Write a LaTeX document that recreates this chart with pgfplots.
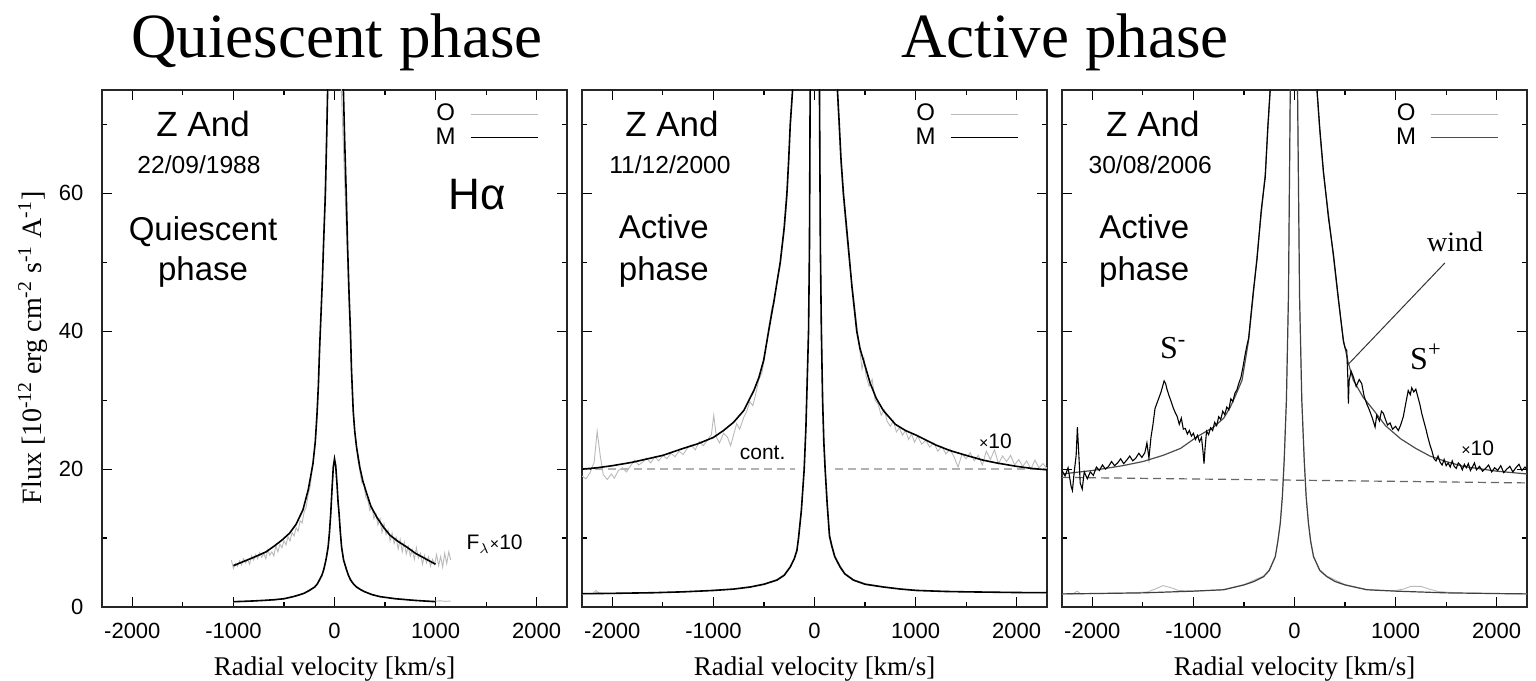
\documentclass[border=0pt]{standalone}
\usepackage{fontspec}
\setmainfont{Liberation Serif}
\newfontfamily\hv{Liberation Sans}
\usepackage{pgfplots}
\pgfplotsset{compat=1.18}

\pgfplotsset{
  zpanel/.style={
    scale only axis, width=232.5pt, height=258.5pt,
    anchor=south west,
    xmin=-2300, xmax=2300, ymin=0, ymax=75,
    xtick={-2000,-1000,...,2000}, minor xtick={-1500,-500,500,1500},
    ytick={0,20,40,60}, minor ytick={10,30,50,70},
    tick pos=both, tick align=inside,
    major tick length=5pt, minor tick length=2.5pt,
    tick style={line width=0.6pt, black},
    axis line style={line width=1pt, black!85},
    scaled ticks=false,
    /pgf/number format/1000 sep={},
    /pgf/number format/assume math mode=true,
    ticklabel style={font=\hv\fontsize{11}{11}\selectfont},
    xticklabel style={yshift=-4.3pt},
    yticklabel style={xshift=-5.8pt},
    xlabel={Radial velocity [km/s]},
    xlabel style={at={(axis description cs:0.5,0)}, anchor=base, yshift=-34pt,
      font=\fontsize{13.5}{13.5}\selectfont},
    legend plot pos=right,
    legend image code/.code={\draw[##1] (0pt,0pt) -- (33.5pt,0pt);},
    legend style={draw=none, fill=none, inner sep=0pt, column sep=6pt,
      nodes={inner sep=1pt}, at={(axis cs:2020,73.3)}, anchor=north east,
      font=\hv\fontsize{12}{12}\selectfont},
  },
  obs/.style={gray!55, line width=0.45pt},
  mod/.style={black, line width=0.8pt},
}
\tikzset{
  zand/.style={anchor=base, font=\hv\fontsize{17.5}{17.5}\selectfont},
  date/.style={anchor=base, font=\hv\fontsize{12.3}{12.3}\selectfont},
  phs/.style={anchor=base, font=\hv\fontsize{16.5}{16.5}\selectfont},
  small/.style={anchor=base, font=\hv\fontsize{10.5}{10.5}\selectfont},
}

\begin{document}
\begin{tikzpicture}
\useasboundingbox (0,0) rectangle (768pt,340pt);

% titles and y label
\node[anchor=base, font=\fontsize{31.5}{31.5}\selectfont] at (168.5pt,311pt) {Quiescent phase};
\node[anchor=base, font=\fontsize{31.5}{31.5}\selectfont] at (532.5pt,311pt) {Active phase};
\node[rotate=90, anchor=center, font=\fontsize{14}{14}\selectfont] at (16.5pt,166pt)
  {Flux [10\textsuperscript{-12} erg cm\textsuperscript{-2} s\textsuperscript{-1} A\textsuperscript{-1}]};

% ---------------- panel 1: quiescent 1988
\begin{axis}[zpanel, at={(51pt,36.5pt)}]
\addplot[obs] coordinates {
(-1020,6.8) (-1000,5.6) (-980,6.3) (-960,5.9) (-940,6.7) (-920,6.1) (-900,7.0) (-880,6.4)
(-860,6.9) (-840,6.2) (-820,7.4) (-800,6.8) (-780,7.6) (-760,7.0) (-740,7.9) (-720,7.2)
(-700,7.8) (-680,7.0) (-660,8.3) (-640,7.5) (-620,8.0) (-600,7.4) (-580,8.9) (-560,8.0)
(-540,9.1) (-520,8.6) (-500,9.6) (-480,9.0) (-460,10.2) (-440,9.6) (-420,10.8) (-400,10.3)
(-380,11.5) (-360,11.0) (-340,12.5) (-320,12.2) (-300,13.8) (-280,14.5) (-260,16.4) (-240,17.5)
(-220,20.0) (-200,22.5) (-180,25.5) (-160,31) (-140,40) (-120,48) (-100,57) (-80,68) (-65,76)
(0,210) (65,76) (90,66) (110,58) (130,50) (150,41) (170,33) (190,27) (210,24.5) (230,21.5)
(250,19.8) (270,18.0) (290,17.8) (310,15.9) (330,15.5) (350,14.0) (370,14.6) (390,12.8)
(410,13.5) (430,11.9) (450,12.8) (470,10.8) (490,12.1) (510,10.5) (530,11.2) (550,9.6)
(570,10.7) (590,9.2) (610,10.1) (630,8.4) (650,9.8) (670,8.0) (690,9.4) (710,7.7) (730,8.8)
(750,7.4) (770,8.3) (790,6.9) (810,8.6) (830,7.1) (850,7.8) (870,6.2) (890,7.5) (910,6.4)
(930,7.3) (950,5.9) (970,6.9) (990,6.2) (1010,7.6) (1030,6.0) (1050,7.3) (1070,5.8)
(1090,7.8) (1110,6.3) (1130,8.0) (1150,6.8)};
\addlegendentry{O}
\addplot[mod] coordinates {
(-1000,6.0) (-900,6.6) (-800,7.2) (-677,8.0) (-600,8.8) (-520,9.7) (-445,10.7) (-380,12.0)
(-312,14.1) (-260,17.0) (-213,20.8) (-190,24) (-173,28) (-160,32) (-147,37.7) (-132,43)
(-120,47.4) (-105,54) (-90,60) (-76,69) (-68,75) (-40,120) (0,215) (50,120) (80,82) (88,75)
(100,68) (116,60) (130,52) (145,45) (158,40) (168,34.5) (185,28.5) (200,25.5) (218,23.2)
(250,20.3) (280,18.3) (318,16.5) (360,14.6) (420,13.0) (483,11.6) (550,10.4) (630,9.5)
(715,8.7) (800,7.8) (900,7.0) (1000,6.2)};
\addlegendentry{M}
\addplot[obs, forget plot] coordinates {
(-1000,0.7) (-950,0.8) (-900,0.78) (-850,0.86) (-800,0.84) (-750,0.93) (-700,0.92) (-650,1.02)
(-600,1.0) (-550,1.12) (-500,1.15) (-450,1.35) (-400,1.5) (-350,1.7) (-300,1.95) (-250,2.3)
(-200,2.8) (-170,3.3) (-150,3.8) (-125,4.5) (-107,5.3) (-85,6.6) (-63,8.5) (-50,10.6)
(-37,13.4) (-25,16.8) (-12,20.0) (0,21.2) (12,20.2) (25,17.5) (35,15.1) (45,13.4) (57,10.8)
(70,8.6) (90,6.9) (119,5.5) (140,4.6) (160,4.0) (190,3.35) (218,2.95) (260,2.55) (300,2.25)
(370,1.85) (450,1.55) (520,1.4) (600,1.25) (700,1.1) (800,1.0) (900,0.9) (1000,0.85)
(1050,0.9) (1100,0.82) (1150,0.88)};
\addplot[mod, forget plot] coordinates {
(-1000,0.77) (-900,0.82) (-800,0.88) (-700,0.96) (-600,1.05) (-500,1.2) (-410,1.5) (-350,1.75)
(-300,2.0) (-250,2.4) (-196,2.9) (-170,3.35) (-150,3.9) (-125,4.6) (-107,5.4) (-85,6.8)
(-63,8.7) (-50,10.8) (-37,13.6) (-25,17) (-12,20.3) (0,21.5) (12,20.5) (25,17.8) (35,15.3)
(45,13.6) (57,11) (70,8.7) (90,6.8) (119,5.4) (140,4.5) (160,3.9) (190,3.3) (218,2.9)
(260,2.5) (300,2.2) (370,1.8) (450,1.5) (600,1.2) (800,0.95) (1000,0.77)};
\node[zand] at (axis cs:-1300,68.2) {Z And};
\node[date] at (axis cs:-1340,62.85) {22/09/1988};
\node[phs] at (axis cs:-1300,53.2) {Quiescent};
\node[phs] at (axis cs:-1300,47.4) {phase};
\node[anchor=base, font=\hv\fontsize{22}{22}\selectfont] at (axis cs:1411,57.6) {Hα};
\node[small] at (axis cs:1584,8.3) {F$_\lambda${\fontsize{8}{8}\selectfont×}10};
\end{axis}

% ---------------- panel 2: active 2000
\begin{axis}[zpanel, at={(291pt,36.5pt)}, yticklabels={}]
\addplot[gray!60, dashed, dash pattern=on 4pt off 2.5pt, line width=0.7pt, forget plot]
  coordinates {(-2300,20) (-190,20)};
\addplot[gray!60, dashed, dash pattern=on 4pt off 2.5pt, line width=0.7pt, forget plot]
  coordinates {(204,20) (2300,20)};
\addplot[obs] coordinates {
(-2300,19.0) (-2260,18.6) (-2220,19.5) (-2180,21.0) (-2150,25.5) (-2120,22.0) (-2090,19.2)
(-2050,18.5) (-2010,19.3) (-1980,18.7) (-1940,19.8) (-1900,20.2) (-1860,19.6) (-1820,20.5)
(-1780,21.3) (-1740,20.6) (-1700,21.0) (-1660,21.6) (-1620,20.9) (-1580,21.8) (-1540,21.2)
(-1500,22.0) (-1460,21.5) (-1420,22.3) (-1380,21.8) (-1340,22.6) (-1300,22.1) (-1260,23.0)
(-1220,23.5) (-1180,22.8) (-1140,24.0) (-1100,23.4) (-1060,24.2) (-1020,25.0) (-997,27.8)
(-970,24.6) (-940,23.8) (-900,25.2) (-860,24.6) (-830,23.4) (-800,25.0) (-770,26.6)
(-740,25.8) (-700,27.5) (-670,28.4) (-640,29.8) (-610,29.2) (-580,31.0) (-550,33.0)
(-520,34.0) (-490,36.5) (-470,38.5) (-454,40.5) (-420,43.5) (-400,44.0) (-370,47.5)
(-339,49.5) (-300,54.5) (-273,59) (-255,64.5) (-240,69.5) (-217,74.5) (-205,78) (-150,140)
(0,300) (150,140) (210,78) (227,74) (262,64) (286,59) (330,52) (370,47) (418,41) (450,37)
(470,34.5) (490,36.0) (510,33.5) (540,32.0) (570,33.0) (600,30.0) (630,29.4) (660,27.8)
(690,28.6) (720,26.9) (750,26.2) (780,27.0) (810,25.4) (840,26.0) (870,24.9) (900,25.6)
(930,24.3) (960,25.1) (990,23.9) (1020,24.8) (1060,23.6) (1100,24.2) (1140,23.2) (1180,23.8)
(1220,22.6) (1260,23.3) (1300,22.2) (1340,22.9) (1380,21.8) (1420,20.3) (1460,22.2)
(1500,21.5) (1540,22.4) (1580,21.2) (1620,22.0) (1660,20.6) (1700,22.6) (1740,21.4)
(1780,22.8) (1820,20.8) (1860,21.9) (1900,21.1) (1940,22.0) (1980,20.6) (2020,21.4)
(2060,20.4) (2100,21.2) (2140,20.0) (2180,21.3) (2220,20.2) (2260,20.8) (2300,20.1)};
\addlegendentry{O}
\addplot[mod] coordinates {
(-2300,20.0) (-2150,20.2) (-2000,20.5) (-1800,21.0) (-1650,21.5) (-1500,22.0) (-1300,23.0)
(-1150,23.7) (-1000,24.6) (-900,25.6) (-800,26.8) (-700,28.5) (-600,31.4) (-550,33.3)
(-503,35.8) (-454,40) (-400,44.5) (-339,50) (-300,55) (-273,60) (-255,65) (-240,70)
(-217,75) (-150,140) (0,300) (150,140) (227,75) (245,70) (262,65) (286,60) (330,53)
(370,46.5) (418,40) (450,37.5) (484,35.8) (550,32.5) (610,30.3) (681,28.5) (800,26.5)
(900,25.6) (1010,24.9) (1200,23.5) (1339,22.7) (1500,22.0) (1668,21.3) (1800,20.9)
(2000,20.4) (2150,20.1) (2300,19.9)};
\addlegendentry{M}
\addplot[obs, forget plot] coordinates {
(-2300,1.85) (-2250,1.95) (-2200,1.9) (-2160,2.4) (-2130,2.0) (-2050,1.9) (-1900,2.0)
(-1700,2.05) (-1500,2.1) (-1300,2.2) (-1100,2.3) (-1000,2.45) (-800,2.6) (-635,2.95)
(-500,3.35) (-372,4.0) (-300,4.7) (-240,5.9) (-200,7.1) (-174,8.4) (-158,10.2) (-130,14.3)
(-102,20.4) (-85,26.5) (-70,34.5) (-59,41) (-50,53) (-44,75) (-20,150) (0,200) (20,150)
(50,75) (59,53) (69,41) (81,30.5) (93,24.5) (106,20.4) (126,15.3) (149,10.6) (171,9.1)
(201,7.5) (254,6.0) (300,4.9) (385,4.0) (500,3.4) (681,2.95) (850,2.65) (1010,2.45)
(1300,2.3) (1500,2.2) (1800,2.15) (2000,2.1) (2300,2.05)};
\addplot[mod, forget plot] coordinates {
(-2300,1.93) (-2000,1.98) (-1600,2.07) (-1300,2.2) (-1000,2.4) (-800,2.6) (-635,2.9)
(-500,3.3) (-372,3.9) (-300,4.6) (-240,5.8) (-200,7.0) (-174,8.2) (-158,10) (-130,14)
(-102,20) (-85,26) (-70,34) (-59,40) (-50,52) (-43,75) (-20,150) (0,200) (20,150) (49,75)
(58,52) (68,40) (80,30) (92,24) (105,20) (125,15) (148,10.3) (170,8.9) (200,7.3) (253,5.8)
(300,4.8) (385,3.9) (500,3.3) (681,2.9) (850,2.6) (1010,2.4) (1300,2.25) (1500,2.2)
(2000,2.1) (2300,2.08)};
\node[zand] at (axis cs:-1410,68.2) {Z And};
\node[date] at (axis cs:-1430,62.85) {11/12/2000};
\node[phs] at (axis cs:-1490,53.5) {Active};
\node[phs] at (axis cs:-1490,47.4) {phase};
\node[small] at (axis cs:-513,21.4) {cont.};
\node[small] at (axis cs:1790,23.0) {{\fontsize{8}{8}\selectfont×}10};
\end{axis}

% ---------------- panel 3: active 2006
\begin{axis}[zpanel, at={(531pt,36.5pt)}, yticklabels={}]
\addplot[black!60, dashed, dash pattern=on 4pt off 2.5pt, line width=0.6pt, forget plot]
  coordinates {(-2300,18.8) (2300,18.0)};
\addplot[obs] coordinates {
(-2300,1.85) (-2250,1.9) (-2200,1.85) (-2150,2.3) (-2120,1.95) (-2000,1.95) (-1800,2.0)
(-1600,2.05) (-1450,2.2) (-1380,2.6) (-1300,3.1) (-1220,2.8) (-1150,2.4) (-1000,2.3)
(-850,2.4) (-700,2.55) (-500,3.25) (-306,4.5) (-250,5.4) (-190,7.4) (-165,9.6) (-141,12.3)
(-120,16.2) (-102,21.5) (-80,30.5) (-60,45.5) (-42,75) (-10,200) (30,75) (50,45.5)
(72,30.5) (96,21.5) (115,16.2) (138,12.3) (160,9.6) (188,7.4) (250,5.4) (320,4.5)
(500,3.25) (715,2.55) (900,2.4) (1000,2.4) (1080,2.6) (1150,3.0) (1250,3.0) (1330,2.6)
(1420,2.25) (1600,2.05) (1800,2.0) (2000,1.95) (2300,1.9)};
\addlegendentry{O}
\addplot[black!75, line width=0.6pt, forget plot] coordinates {
(-2300,1.9) (-2000,1.95) (-1500,2.05) (-1000,2.3) (-700,2.5) (-500,3.2) (-400,3.7)
(-306,4.4) (-250,5.3) (-190,7.3) (-165,9.5) (-141,12.1) (-120,16) (-102,21.3) (-80,30)
(-60,45) (-42,75) (-10,200) (30,75) (50,45) (72,30) (96,21.3) (115,16) (138,12.1) (160,9.5)
(188,7.3) (250,5.3) (320,4.4) (400,3.7) (500,3.2) (715,2.5) (1000,2.3) (1500,2.05)
(2000,1.95) (2300,1.9)};
\addplot[black!70, line width=0.6pt] coordinates {
(-2300,19.3) (-2000,19.8) (-1700,20.5) (-1500,21.1) (-1300,22.0) (-1128,23.0) (-964,24.7)
(-800,26.1) (-700,27.4) (-635,29.0) (-580,30.8) (-519,32.9) (-454,38.7) (-410,45)
(-371,50.8) (-330,57) (-289,62.9) (-265,69) (-240,75) (-150,140) (0,300) (150,140) (221,75)
(250,69) (286,62.9) (335,57) (385,50.8) (434,44.5) (484,38.7) (530,35.5) (582,32.9)
(680,30.4) (780,28.6) (900,26.3) (1050,24.4) (1200,23.0) (1339,21.9) (1500,21.1)
(1668,20.4) (2000,19.7) (2300,19.3)};
\addlegendentry{M}
\addplot[black, line width=0.55pt, forget plot] coordinates {
(-2300,19.8) (-2270,19.0) (-2240,20.2) (-2210,17.5) (-2197,16.9) (-2180,19.5) (-2160,22.0)
(-2148,26.1) (-2135,22.5) (-2120,18.0) (-2100,17.1) (-2080,19.6) (-2050,18.6) (-2020,19.6)
(-1990,19.1) (-1960,20.3) (-1930,19.8) (-1900,20.6) (-1870,20.0) (-1840,20.4) (-1810,21.1)
(-1780,20.5) (-1750,20.9) (-1720,21.5) (-1690,20.8) (-1660,21.3) (-1630,21.9) (-1600,21.2)
(-1570,21.6) (-1540,22.3) (-1510,21.7) (-1480,22.4) (-1460,23.8) (-1440,21.6) (-1420,24.6)
(-1400,26.5) (-1380,28.8) (-1350,30.0) (-1320,31.2) (-1290,32.8) (-1275,32.4) (-1260,31.5)
(-1240,30.6) (-1220,29.8) (-1200,28.9) (-1180,28.2) (-1160,27.6) (-1140,26.5) (-1120,27.4)
(-1100,25.8) (-1080,25.9) (-1060,25.1) (-1040,25.6) (-1020,24.8) (-1000,25.2) (-980,24.3)
(-960,24.9) (-940,24.0) (-920,24.6) (-905,22.5) (-895,20.8) (-885,23.0) (-870,25.5)
(-850,25.0) (-830,26.0) (-810,25.6) (-790,26.8) (-770,26.3) (-750,27.6) (-730,27.2)
(-710,28.4) (-690,27.9) (-670,29.0) (-650,28.6) (-630,30.2) (-610,29.8) (-590,31.0)
(-570,31.5) (-550,32.5) (-530,33.3) (-510,34.8) (-490,36.5) (-470,38.0) (-454,39)
(-410,45.5) (-371,50.4) (-330,57.5) (-289,62.4) (-265,69.5) (-240,75.3) (-230,77)
(-150,140) (0,300) (150,140) (215,77) (221,75.5) (250,69.5) (286,63.3) (335,56.5)
(385,51.2) (434,44.8) (470,40.2) (484,38.5) (500,37.6) (517,37.2) (528,33.0) (533,29.5)
(540,32.8) (560,34.2) (582,33.4) (610,32.0) (640,33.0) (665,32.4) (690,30.5) (714,29.5)
(740,28.6) (770,27.4) (797,26.1) (813,27.8) (840,27.0) (860,28.4) (879,28.1) (900,27.2)
(920,26.4) (945,26.7) (970,25.8) (1000,26.2) (1027,25.6) (1050,26.4) (1076,27.6)
(1100,29.5) (1125,31.4) (1145,30.8) (1160,31.8) (1180,31.2) (1200,31.6) (1220,30.5)
(1240,29.4) (1260,28.0) (1280,26.9) (1300,25.8) (1320,24.6) (1340,23.5) (1360,22.6)
(1380,21.5) (1400,21.2) (1420,21.9) (1440,21.0) (1460,20.6) (1480,21.4) (1500,20.5)
(1520,20.9) (1540,20.3) (1560,21.2) (1580,20.4) (1600,20.1) (1620,20.9) (1640,20.6)
(1660,19.9) (1680,20.7) (1700,20.2) (1720,20.8) (1740,19.8) (1760,20.3) (1780,20.9)
(1800,19.9) (1830,20.4) (1860,19.7) (1890,20.1) (1920,20.6) (1950,19.6) (1980,20.2)
(2010,19.8) (2040,20.5) (2070,19.5) (2100,20.0) (2130,20.4) (2160,19.6) (2190,20.2)
(2220,20.7) (2250,19.8) (2280,20.3) (2300,19.9)};
\addplot[black!80, line width=0.5pt, forget plot] coordinates {(1487,49.9) (525,35.1)};
\node[zand] at (axis cs:-1401,68.2) {Z And};
\node[date] at (axis cs:-1428,62.85) {30/08/2006};
\node[phs] at (axis cs:-1487,53.5) {Active};
\node[phs] at (axis cs:-1487,47.4) {phase};
\node[anchor=base, font=\fontsize{14}{14}\selectfont] at (axis cs:1590,51.5) {wind};
\node[anchor=base, font=\fontsize{16}{16}\selectfont] at (axis cs:-1200,36.0) {S\textsuperscript{-}};
\node[anchor=base, font=\fontsize{16}{16}\selectfont] at (axis cs:1300,34.5) {S\textsuperscript{+}};
\node[small] at (axis cs:1812,22.0) {{\fontsize{8}{8}\selectfont×}10};
\end{axis}
\end{tikzpicture}
\end{document}
